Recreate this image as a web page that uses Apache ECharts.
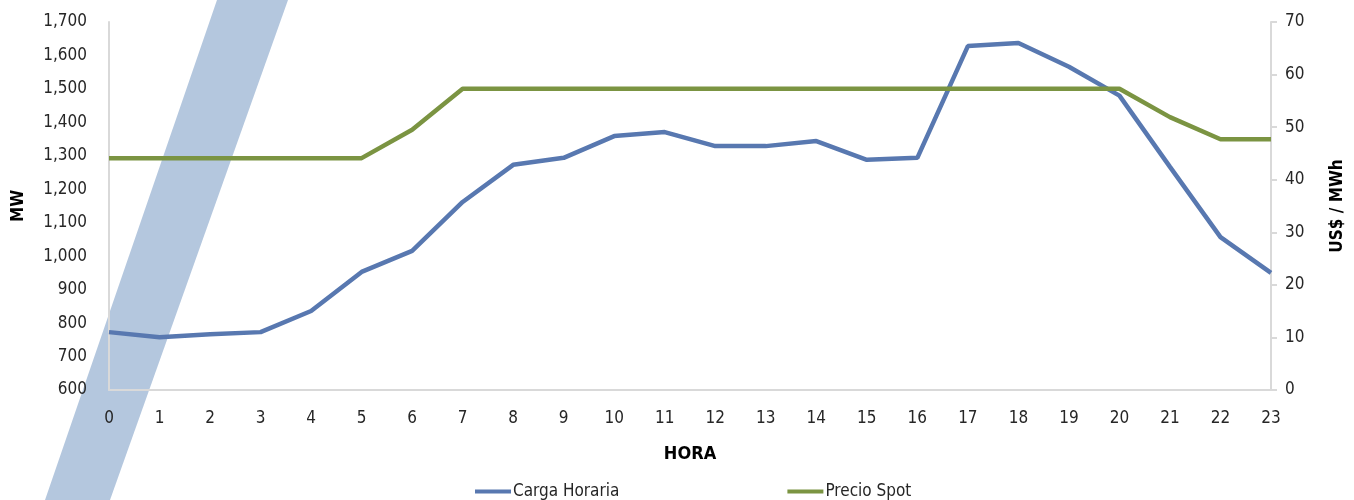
<!DOCTYPE html>
<html>
<head>
<meta charset="utf-8">
<script src="https://cdn.jsdelivr.net/npm/echarts@6/dist/echarts.min.js"></script>
<style>
  html, body { margin: 0; padding: 0; background: #fff; }
  #main { width: 1354px; height: 500px; }
</style>
</head>
<body>
<div id="main"></div>
<script>
var horas = ['0','1','2','3','4','5','6','7','8','9','10','11','12','13','14','15','16','17','18','19','20','21','22','23'];
var cargaHoraria = [773, 758, 767, 773, 836, 953, 1016, 1162, 1273, 1294, 1359, 1371, 1329, 1329, 1344, 1288, 1294, 1628, 1637, 1566, 1480, 1267, 1057, 950];
var precioSpot = [44.1, 44.1, 44.1, 44.1, 44.1, 44.1, 49.5, 57.3, 57.3, 57.3, 57.3, 57.3, 57.3, 57.3, 57.3, 57.3, 57.3, 57.3, 57.3, 57.3, 57.3, 51.9, 47.7, 47.7];

var fuente = '"Liberation Sans Narrow", "DejaVu Sans Condensed", sans-serif';
var myChart = echarts.init(document.getElementById('main'));

var option = {
	animation: false,
	textStyle: { fontFamily: fuente },
	grid: { left: 109, right: 83, top: 22, bottom: 110, containLabel: false, outerBoundsMode: 'none' },
	graphic: [{
		type: 'polygon',
		z: 0,
		shape: { points: [[217, 0], [288, 0], [110, 500], [45, 500]] },
		style: { fill: '#b4c7de' }
	}],
	legend: {
		top: 478,
		left: 470,
		icon: 'rect',
		itemWidth: 36,
		itemHeight: 4,
		itemGap: 168,
		textStyle: { fontSize: 17, color: '#262626', fontFamily: fuente, padding: [0, 0, 0, -3] },
		data: ['Carga Horaria', 'Precio Spot']
	},
	xAxis: {
		type: 'category',
		boundaryGap: false,
		data: horas,
		name: 'HORA',
		nameLocation: 'middle',
		nameGap: 55,
		nameTextStyle: { fontSize: 18, fontWeight: 'bold', color: '#000', fontFamily: fuente },
		axisLine: { lineStyle: { color: '#d9d9d9', width: 2 } },
		axisTick: { show: false },
		axisLabel: { fontSize: 17, color: '#262626', margin: 20 }
	},
	yAxis: [{
		type: 'value',
		min: 600,
		max: 1700,
		interval: 100,
		name: 'MW',
		nameLocation: 'middle',
		nameRotate: 90,
		nameGap: 82,
		nameTextStyle: { fontSize: 17, fontWeight: 'bold', color: '#000', fontFamily: fuente },
		axisLine: { show: true, lineStyle: { color: '#d9d9d9', width: 2 } },
		axisTick: { show: false },
		splitLine: { show: false },
		axisLabel: {
			fontSize: 17, color: '#262626', margin: 22,
			formatter: function (v) { return v.toLocaleString('en-US'); }
		}
	}, {
		type: 'value',
		min: 0,
		max: 70,
		interval: 10,
		name: 'US$ / MWh',
		nameLocation: 'middle',
		nameRotate: 90,
		nameGap: 58,
		nameTextStyle: { fontSize: 17, fontWeight: 'bold', color: '#000', fontFamily: fuente },
		axisLine: { show: true, lineStyle: { color: '#d9d9d9', width: 2 } },
		axisTick: { show: true, length: 6, lineStyle: { color: '#d9d9d9', width: 2 } },
		splitLine: { show: false },
		axisLabel: { fontSize: 17, color: '#262626', margin: 14 }
	}],
	series: [{
		name: 'Carga Horaria',
		type: 'line',
		yAxisIndex: 0,
		data: cargaHoraria,
		symbol: 'none',
		z: 3,
		lineStyle: { color: '#5878b0', width: 4.5 },
		itemStyle: { color: '#5878b0' }
	}, {
		name: 'Precio Spot',
		type: 'line',
		yAxisIndex: 1,
		data: precioSpot,
		symbol: 'none',
		z: 3,
		lineStyle: { color: '#7b9442', width: 4.5 },
		itemStyle: { color: '#7b9442' }
	}]
};

myChart.setOption(option);
</script>
</body>
</html>
